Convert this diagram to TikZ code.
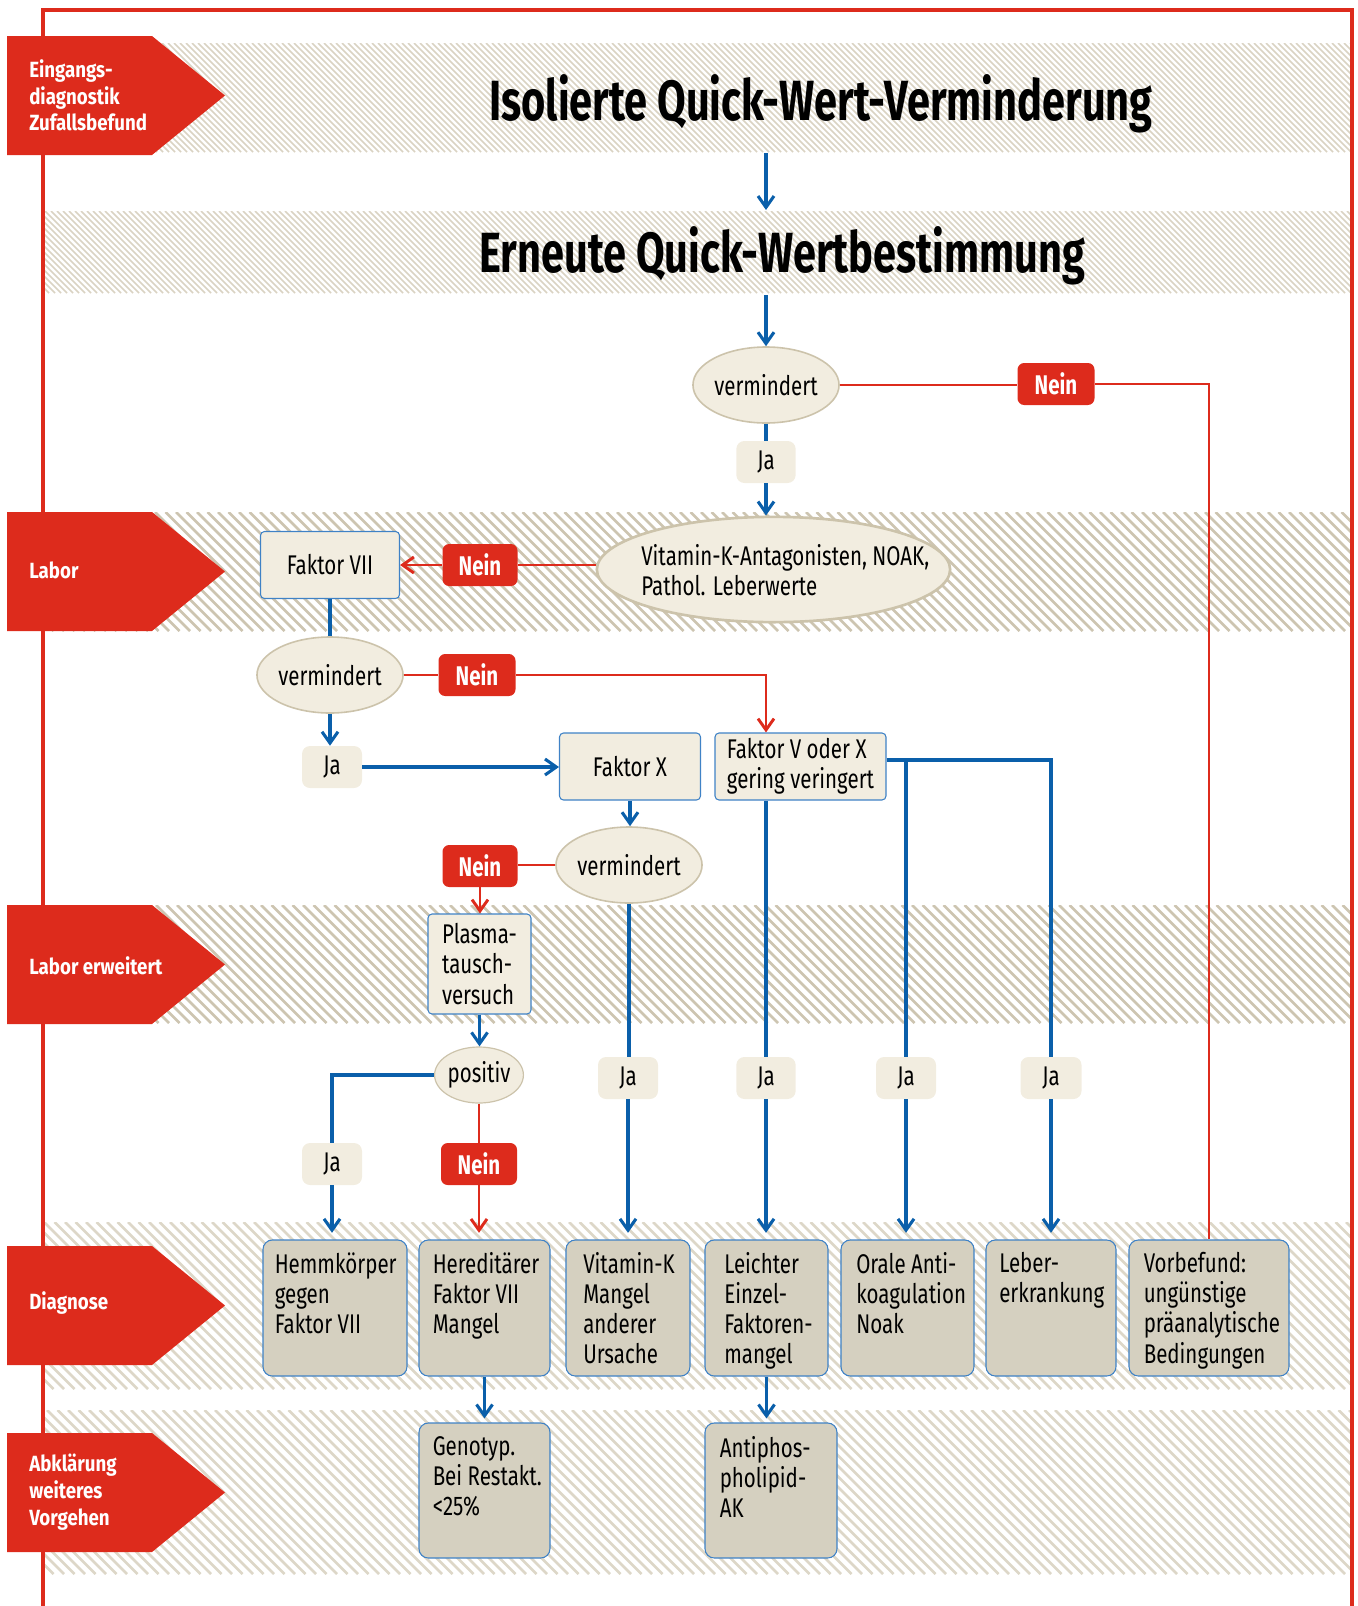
\documentclass[tikz,border=0pt]{standalone}
\usepackage{fontspec}
\setmainfont[FakeStretch=0.76]{Fira Sans}
\newfontfamily\titfont[FakeStretch=0.733]{Fira Sans}
\newfontfamily\labfont[FakeStretch=0.85]{Fira Sans}
\usetikzlibrary{shapes.geometric,arrows.meta}
\definecolor{redc}{HTML}{DD2B1C}
\definecolor{bluec}{HTML}{0A5FAA}
\definecolor{beigef}{HTML}{F2EDE0}
\definecolor{ellb}{HTML}{CCC3AB}
\definecolor{diagf}{HTML}{D5D0C0}
\definecolor{boxb}{HTML}{3F82C6}
\definecolor{hatchA}{HTML}{DAD3C3}
\definecolor{hatchB}{HTML}{CDC5B1}
\definecolor{hatchC}{HTML}{DDD7C8}
\newcommand\hband[5]{%
  \begin{scope}
  \clip (43,#1) rectangle (1352,#2);
  \pgfmathsetmacro\hh{#2-#1}%
  \pgfmathsetmacro\xs{43-\hh}%
  \pgfmathsetmacro\xn{\xs+#3}%
  \foreach \xx in {\xs,\xn,...,1352} \draw[#5, line width=#4] (\xx,#1) -- ++(\hh,\hh);
  \end{scope}}
\newcommand\pentag[3]{\fill[redc] (7,#1) -- (152,#1) -- (225,#3) -- (152,#2) -- (7,#2) -- cycle;}
\tikzset{
  body/.style={font=\fontsize{20.25pt}{22.65pt}\selectfont},
  ell/.style={ellipse, fill=beigef, draw=ellb, line width=1.2pt, inner sep=0pt, body},
  nein/.style={rectangle, rounded corners=5pt, fill=redc, text=white, inner sep=0pt, minimum height=31.5pt, font=\fontsize{20.25pt}{22.65pt}\selectfont\bfseries},
  jabox/.style={rectangle, rounded corners=6pt, fill=beigef, inner sep=0pt, minimum width=44.5pt, minimum height=31.5pt, body},
  fbox/.style={rectangle, rounded corners=3pt, fill=beigef, draw=boxb, line width=0.8pt, inner sep=0pt, body, align=left},
  dbox/.style={rectangle, rounded corners=7pt, fill=diagf, draw=boxb, line width=0.8pt, inner sep=0pt},
  dtext/.style={anchor=north west, inner sep=0pt, align=left, body},
  bl/.style={draw=bluec, line width=2.3pt},
  rl/.style={draw=redc, line width=2.2pt},
  bla/.style={bl, -{Straight Barb[length=8.5pt,width=12pt]}},
  rla/.style={rl, -{Straight Barb[length=8.5pt,width=12pt]}},
  lab/.style={text=white, anchor=west, align=left, inner sep=0pt, font=\labfont\bfseries\fontsize{16.5pt}{20pt}\selectfont},
  tit/.style={anchor=base west, inner sep=0pt, font=\titfont\bfseries\fontsize{42.5pt}{48pt}\selectfont},
}
\begin{document}
\begin{tikzpicture}[x=0.75pt,y=-0.75pt]
\useasboundingbox (0,0) rectangle (1357,1606);
% hatched bands
\hband{43}{152}{6}{1.1pt}{hatchA}
\hband{211}{293}{6}{1.1pt}{hatchA}
\hband{512}{631}{10.5}{2pt}{hatchB}
\hband{905}{1023}{10.5}{1.9pt}{hatchB}
\hband{1222}{1389}{10.5}{1.9pt}{hatchC}
\hband{1410}{1574}{10.5}{1.9pt}{hatchC}
% frame
\draw[redc, line width=2.4pt] (43,1606) -- (43,10) -- (1352,10) -- (1352,1606);
% pentagons
\pentag{36}{155}{95.5}
\pentag{512}{631}{571.5}
\pentag{905}{1024}{964.5}
\pentag{1246}{1365}{1305.5}
\pentag{1433}{1552}{1492.5}
\node[lab] (l1) at (29,95.5) {Eingangs-\\diagnostik\\Zufallsbefund};
\node[lab] (l2) at (29,570) {Labor};
\node[lab] (l3) at (29,966) {Labor erweitert};
\node[lab] (l4) at (29,1303) {Diagnose};
\node[lab] (l5) at (29,1492) {Abklärung\\weiteres\\Vorgehen};
% titles
\node[tit] (t1) at (489,120) {Isolierte Quick-Wert-Verminderung};
\node[tit] (t2) at (479,272) {Erneute Quick-Wertbestimmung};
\coordinate (a1s) at (766,153);
\coordinate (a1e) at (766,210);
\coordinate (a2s) at (766,295);
% nodes
\node[ell, minimum width=106.5pt, minimum height=57pt] (vm1) at (766,385) {vermindert};
\node[nein, minimum width=57.75pt] (n1) at (1056,384) {Nein};
\node[jabox] (ja1) at (766,462) {Ja};
\node[ell, minimum width=265pt, minimum height=79pt, line width=2pt] (vka) at (773.5,569.5) {};
\node[body, align=left, inner sep=0pt, anchor=west] (vkat) at (641,570) {Vitamin-K-Antagonisten, NOAK,\\Pathol. Leberwerte};
\node[nein, minimum width=56.25pt] (n2) at (480,565) {Nein};
\node[fbox, minimum width=104.25pt, minimum height=50.25pt] (f7) at (330,565) {Faktor VII};
\node[ell, minimum width=105.75pt, minimum height=57pt] (vm2) at (330,675) {vermindert};
\node[nein, minimum width=57.75pt] (n3) at (477,675) {Nein};
\node[jabox, minimum width=45pt] (ja2) at (332,767) {Ja};
\node[fbox, minimum width=105.75pt, minimum height=50.25pt] (fx) at (630,766.5) {Faktor X};
\node[fbox, minimum width=128.25pt, minimum height=50.25pt] (fvx) at (800.5,766.5) {Faktor V oder X\\gering veringert};
\node[ell, minimum width=106.5pt, minimum height=57pt] (vm3) at (629,865) {vermindert};
\node[nein, minimum width=56.25pt] (n4) at (480,866) {Nein};
\node[fbox, minimum width=77.25pt, minimum height=75pt] (pl) at (479.5,964) {Plasma-\\tausch-\\versuch};
\node[ell, minimum width=66pt, minimum height=42pt, line width=0.9pt] (pos) at (479,1075) {positiv};
\node[jabox, minimum width=45pt] (ja3) at (332,1164) {Ja};
\node[nein, minimum width=57pt] (n5) at (479,1164) {Nein};
\node[jabox, minimum width=45pt] (ja4) at (628,1078) {Ja};
\node[jabox] (ja5) at (766,1078) {Ja};
\node[jabox, minimum width=45pt] (ja6) at (906,1078) {Ja};
\node[jabox, minimum width=45.75pt] (ja7) at (1051,1078) {Ja};
% diagnosis boxes
\node[dbox, minimum width=108pt, minimum height=102pt] (d1) at (335,1308) {};
\node[dbox, minimum width=98.25pt, minimum height=102pt] (d2) at (484.5,1308) {};
\node[dbox, minimum width=93pt, minimum height=102pt] (d3) at (628,1308) {};
\node[dbox, minimum width=92.25pt, minimum height=102pt] (d4) at (766.5,1308) {};
\node[dbox, minimum width=99.75pt, minimum height=102pt] (d5) at (907.5,1308) {};
\node[dbox, minimum width=97.5pt, minimum height=102pt] (d6) at (1051,1308) {};
\node[dbox, minimum width=120pt, minimum height=102pt] (d7) at (1209,1308) {};
\node[dtext] (d1t) at (274.5,1252) {Hemmkörper\\gegen\\Faktor VII};
\node[dtext] (d2t) at (432.5,1252) {Hereditärer\\Faktor VII\\Mangel};
\node[dtext] (d3t) at (583,1252) {Vitamin-K\\Mangel\\anderer\\Ursache};
\node[dtext] (d4t) at (724,1252) {Leichter\\Einzel-\\Faktoren-\\mangel};
\node[dtext] (d5t) at (856,1252) {Orale Anti-\\koagulation\\Noak};
\node[dtext] (d6t) at (999,1252) {Leber-\\erkrankung};
\node[dtext] (d7t) at (1143.5,1252) {Vorbefund:\\ungünstige\\präanalytische\\Bedingungen};
% follow-up boxes
\node[dbox, minimum width=98.25pt, minimum height=101.25pt] (a1) at (484.5,1490.5) {};
\node[dbox, minimum width=99pt, minimum height=101.25pt] (a2) at (771,1490.5) {};
\node[dtext] (a1t) at (432.5,1436) {Genotyp.\\Bei Restakt.\\<25\%};
\node[dtext] (a2t) at (719.5,1436) {Antiphos-\\pholipid-\\AK};
% connectors
\draw[bla] (a1s) -- (a1e);
\draw[bla] (a2s) -- (vm1.north);
\draw[rl] (vm1.east) -- (vm1.east -| n1.west);
\draw[rl] (n1.east) -| (d7.north);
\draw[bl] (vm1.south) -- (ja1.north);
\draw[bla] (ja1.south) -- (ja1.south |- vka.north);
\draw[rl] (vka.west |- n2.east) -- (n2.east);
\draw[rla] (n2.west) -- (n2.west -| f7.east);
\draw[bl] (f7.south) -- (vm2.north);
\draw[rl] (vm2.east) -- (n3.west);
\draw[rla] (n3.east) -| (fvx.north -| ja5);
\draw[bla] (vm2.south) -- (vm2.south |- ja2.north);
\draw[bla] (ja2.east) -- (ja2.east -| fx.west);
\draw[bla] (fx.south) -- (fx.south |- vm3.north);
\draw[rl] (vm3.west) -- (vm3.west -| n4.east);
\draw[rla] (n4.south) -- (n4.south |- pl.north);
\draw[bla] (pl.south) -- (pl.south |- pos.north);
\draw[bl] (pos.west) -| (ja3.north);
\draw[bla, shorten >=5pt] (ja3.south) -- (ja3.south |- d1.north);
\draw[rl] (pos.south) -- (pos.south |- n5.north);
\draw[rla, shorten >=5pt] (n5.south) -- (n5.south |- d2.north);
\draw[bl] (vm3.south) -- (vm3.south |- ja4.north);
\draw[bla, shorten >=5pt] (ja4.south) -- (ja4.south |- d3.north);
\draw[bl] (fvx.south -| ja5) -- (ja5.north);
\draw[bla, shorten >=5pt] (ja5.south) -- (ja5.south |- d4.north);
\coordinate (fvxr) at ([yshift=4.9pt]fvx.east);
\draw[bl] (fvxr) -| (ja7.north);
\draw[bl] (ja6.north |- fvxr) -- (ja6.north);
\draw[bla, shorten >=5pt] (ja6.south) -- (ja6.south |- d5.north);
\draw[bla, shorten >=5pt] (ja7.south) -- (ja7.south |- d6.north);
\draw[bla, shorten >=3pt] (d2.south) -- (d2.south |- a1.north);
\draw[bla, shorten >=3pt] (d4.south) -- (d4.south |- a2.north);
\end{tikzpicture}
\end{document}
